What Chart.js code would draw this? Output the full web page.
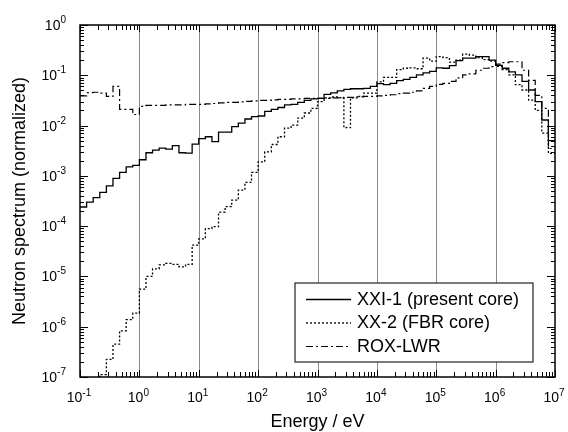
<!DOCTYPE html>
<html>
<head>
<meta charset="utf-8">
<script src="https://cdn.jsdelivr.net/npm/chart.js@4.4.0/dist/chart.umd.min.js"></script>
<style>
  html, body { margin: 0; padding: 0; background: #fff; }
  canvas { display: block; }
</style>
</head>
<body>
<canvas id="chart" width="568" height="432"></canvas>
<script>
// --- Data ---
// lower bin edges in eV (9 groups per decade), last entry is the upper edge of the last bin
const energyEdges = [
    0.1, 0.1292, 0.1668, 0.2154, 0.2783, 0.3594, 0.4642, 0.5995, 0.7743,
    1, 1.292, 1.668, 2.154, 2.783, 3.594, 4.642, 5.995, 7.743,
    10, 12.92, 16.68, 21.54, 27.83, 35.94, 46.42, 59.95, 77.43,
    100, 129.2, 166.8, 215.4, 278.3, 359.4, 464.2, 599.5, 774.3,
    1e3, 1292, 1668, 2154, 2783, 3594, 4642, 5995, 7743,
    1e4, 12920, 16680, 21540, 27830, 35940, 46420, 59950, 77430,
    1e5, 129200, 166800, 215400, 278300, 359400, 464200, 599500, 774300,
    1e6, 1.292e6, 1.668e6, 2.154e6, 2.783e6, 3.594e6, 4.642e6, 5.995e6, 7.743e6,
    1e7
];

const seriesLabels = ['XXI-1 (present core)', 'XX-2 (FBR core)', 'ROX-LWR'];

const xxi1 = [
    2.4e-4, 3.0e-4, 3.7e-4, 4.7e-4, 6.3e-4, 8.9e-4, 1.17e-3, 1.51e-3, 1.62e-3,
    2.09e-3, 2.88e-3, 3.24e-3, 3.55e-3, 3.39e-3, 3.98e-3, 2.88e-3, 2.82e-3, 4.27e-3,
    5.5e-3, 6.0e-3, 4.8e-3, 7.4e-3, 7.4e-3, 9.5e-3, 1.12e-2, 1.35e-2, 1.51e-2,
    1.55e-2, 1.91e-2, 2.09e-2, 2.29e-2, 2.57e-2, 2.63e-2, 2.88e-2, 3.16e-2, 3.39e-2,
    3.47e-2, 4.17e-2, 4.47e-2, 4.9e-2, 5.25e-2, 5.4e-2, 5.4e-2, 5.5e-2, 6.0e-2,
    6.8e-2, 6.5e-2, 6.9e-2, 7.8e-2, 8.3e-2, 9.1e-2, 0.102, 0.112, 0.120,
    0.141, 0.138, 0.155, 0.195, 0.219, 0.219, 0.234, 0.234, 0.200,
    0.158, 0.138, 0.117, 0.102, 0.076, 0.051, 0.030, 0.0129, 0.0050
];

const xx2 = [
    null, null, 6.3e-8, 1.12e-7, 2.24e-7, 4.5e-7, 8.3e-7, 1.38e-6, 1.86e-6,
    5.6e-6, 1.0e-5, 1.41e-5, 1.70e-5, 1.82e-5, 1.74e-5, 1.55e-5, 1.74e-5, 4.2e-5,
    5.6e-5, 8.9e-5, 9.8e-5, 1.9e-4, 2.45e-4, 3.3e-4, 5.2e-4, 7.4e-4, 1.17e-3,
    1.9e-3, 3.0e-3, 4.2e-3, 6.0e-3, 8.9e-3, 1.02e-2, 1.41e-2, 1.78e-2, 2.19e-2,
    3.0e-2, 3.55e-2, 3.7e-2, 3.6e-2, 9.1e-3, 3.55e-2, 3.8e-2, 4.4e-2, 4.4e-2,
    7.4e-2, 9.1e-2, 9.1e-2, 0.129, 0.138, 0.141, 0.135, 0.219, 0.191,
    0.234, 0.224, 0.182, 0.200, 0.263, 0.251, 0.224, 0.204, 0.191,
    0.151, 0.129, 0.102, 0.065, 0.051, 0.032, 0.020, 0.0071, 0.0028
];

const roxLwr = [
    0.039, 0.045, 0.046, 0.044, 0.038, 0.060, 0.021, 0.021, 0.0166,
    0.024, 0.0251, 0.0251, 0.0251, 0.0257, 0.0257, 0.0257, 0.0263, 0.0263,
    0.0263, 0.0269, 0.0275, 0.0282, 0.0288, 0.0288, 0.0295, 0.0302, 0.0309,
    0.0316, 0.0316, 0.0324, 0.0331, 0.0331, 0.0339, 0.0339, 0.0347, 0.0347,
    0.0347, 0.0347, 0.0355, 0.0355, 0.0363, 0.0363, 0.0372, 0.038, 0.038,
    0.039, 0.040, 0.041, 0.043, 0.044, 0.046, 0.049, 0.055, 0.060,
    0.066, 0.069, 0.076, 0.089, 0.102, 0.107, 0.126, 0.138, 0.148,
    0.166, 0.178, 0.186, 0.186, 0.126, 0.079, 0.040, 0.022, 0.0035
];

const xDecades = [1e-1, 1e0, 1e1, 1e2, 1e3, 1e4, 1e5, 1e6, 1e7];
const xExponents = ['-1', '0', '1', '2', '3', '4', '5', '6', '7'];
const yDecades = [1e-7, 1e-6, 1e-5, 1e-4, 1e-3, 1e-2, 1e-1, 1e0];
const yExponents = ['-7', '-6', '-5', '-4', '-3', '-2', '-1', '0'];

const xTitle = 'Energy / eV';
const yTitle = 'Neutron spectrum (normalized)';

// --- Helpers ---
const toSteps = (values) => {
    const pts = values.map((v, i) => ({ x: energyEdges[i], y: v }));
    pts.push({ x: energyEdges[values.length], y: values[values.length - 1] });
    return pts;
};

const FONT = '"Liberation Sans", Arial, Helvetica, sans-serif';
const dashes = [[], [2, 2], [7, 3, 2, 3]];
const widths = [1.3, 1.3, 1.2];

const minorValues = (decades) => {
    const out = [];
    decades.slice(0, -1).forEach(d => { for (let m = 2; m <= 9; m++) out.push(m * d); });
    return out;
};

// --- Axis, frame and legend drawing ---
const framePlugin = {
    id: 'frame',
    beforeDraw: (chart) => {
        const ctx = chart.ctx;
        ctx.save();
        ctx.fillStyle = '#fff';
        ctx.fillRect(0, 0, chart.width, chart.height);
        ctx.restore();
    },
    beforeDatasetsDraw: (chart) => {
        const { ctx, chartArea: a, scales: { x } } = chart;
        ctx.save();
        ctx.strokeStyle = '#8a8a8a';
        ctx.lineWidth = 1;
        xDecades.slice(1, -1).forEach(v => {
            const px = Math.round(x.getPixelForValue(v)) + 0.5;
            ctx.beginPath();
            ctx.moveTo(px, a.top);
            ctx.lineTo(px, a.bottom);
            ctx.stroke();
        });
        ctx.restore();
    },
    afterDatasetsDraw: (chart) => {
        const { ctx, chartArea: a, scales: { x, y } } = chart;
        ctx.save();
        ctx.strokeStyle = '#000';
        ctx.fillStyle = '#000';

        // ticks
        ctx.lineWidth = 1;
        ctx.beginPath();
        xDecades.forEach(v => {
            const px = Math.round(x.getPixelForValue(v)) + 0.5;
            ctx.moveTo(px, a.bottom); ctx.lineTo(px, a.bottom - 7);
            ctx.moveTo(px, a.top); ctx.lineTo(px, a.top + 7);
        });
        minorValues(xDecades).forEach(v => {
            const px = Math.round(x.getPixelForValue(v)) + 0.5;
            ctx.moveTo(px, a.bottom); ctx.lineTo(px, a.bottom - 5);
            ctx.moveTo(px, a.top); ctx.lineTo(px, a.top + 5);
        });
        yDecades.forEach(v => {
            const py = Math.round(y.getPixelForValue(v)) + 0.5;
            ctx.moveTo(a.left, py); ctx.lineTo(a.left + 8, py);
            ctx.moveTo(a.right, py); ctx.lineTo(a.right - 8, py);
        });
        minorValues(yDecades).forEach(v => {
            const py = Math.round(y.getPixelForValue(v)) + 0.5;
            ctx.moveTo(a.left, py); ctx.lineTo(a.left + 4, py);
            ctx.moveTo(a.right, py); ctx.lineTo(a.right - 4, py);
        });
        ctx.stroke();

        // frame
        ctx.lineWidth = 1.5;
        ctx.strokeRect(a.left, a.top, a.right - a.left, a.bottom - a.top);

        // tick labels as 10 with raised exponent
        const baseFont = '14px ' + FONT;
        const expFont = '10px ' + FONT;
        ctx.textBaseline = 'alphabetic';
        ctx.textAlign = 'left';
        xDecades.forEach((v, i) => {
            const px = x.getPixelForValue(v);
            ctx.font = baseFont;
            const wb = ctx.measureText('10').width;
            ctx.font = expFont;
            const we = ctx.measureText(xExponents[i]).width;
            const x0 = px - (wb + we) / 2 - 1;
            ctx.font = baseFont;
            ctx.fillText('10', x0, 402);
            ctx.font = expFont;
            ctx.fillText(xExponents[i], x0 + wb, 395.5);
        });
        yDecades.forEach((v, i) => {
            const py = y.getPixelForValue(v);
            ctx.font = expFont;
            const we = ctx.measureText(yExponents[i]).width;
            ctx.font = baseFont;
            const wb = ctx.measureText('10').width;
            const x0 = 66 - we - wb;
            ctx.fillText('10', x0, py + 5);
            ctx.font = expFont;
            ctx.fillText(yExponents[i], x0 + wb, py - 2);
        });

        // axis titles
        ctx.font = '18px ' + FONT;
        ctx.textAlign = 'center';
        ctx.fillText(xTitle, (a.left + a.right) / 2, 427);
        ctx.save();
        ctx.translate(25, (a.top + a.bottom) / 2);
        ctx.rotate(-Math.PI / 2);
        ctx.fillText(yTitle, 0, 0);
        ctx.restore();

        // legend
        const box = { x: 295, y: 283, w: 238, h: 79 };
        ctx.fillStyle = '#fff';
        ctx.fillRect(box.x, box.y, box.w, box.h);
        ctx.strokeStyle = '#333';
        ctx.lineWidth = 1.3;
        ctx.strokeRect(box.x, box.y, box.w, box.h);
        ctx.fillStyle = '#000';
        ctx.font = '18px ' + FONT;
        ctx.textAlign = 'left';
        ctx.textBaseline = 'middle';
        seriesLabels.forEach((label, i) => {
            const ry = 299 + i * 23.5;
            ctx.strokeStyle = '#000';
            ctx.lineWidth = widths[i];
            ctx.setLineDash(dashes[i]);
            ctx.beginPath();
            ctx.moveTo(306, ry + 0.5);
            ctx.lineTo(351, ry + 0.5);
            ctx.stroke();
            ctx.setLineDash([]);
            ctx.fillText(label, 357, ry + 1);
        });
        ctx.restore();
    }
};

// --- Chart ---
const seriesValues = [xxi1, xx2, roxLwr];
new Chart(document.getElementById('chart').getContext('2d'), {
    type: 'line',
    data: {
        datasets: seriesValues.map((vals, i) => ({
            label: seriesLabels[i],
            data: toSteps(vals),
            stepped: true,
            borderColor: '#000',
            borderWidth: widths[i],
            borderDash: dashes[i],
            pointRadius: 0,
            fill: false,
            spanGaps: false,
            clip: 0
        }))
    },
    options: {
        responsive: false,
        animation: false,
        parsing: false,
        layout: { padding: { left: 80, right: 13, top: 25, bottom: 55 } },
        plugins: { legend: { display: false }, tooltip: { enabled: false } },
        scales: {
            x: { type: 'logarithmic', min: 0.1, max: 1e7, display: false },
            y: { type: 'logarithmic', min: 1e-7, max: 1, display: false }
        }
    },
    plugins: [framePlugin]
});
</script>
</body>
</html>
